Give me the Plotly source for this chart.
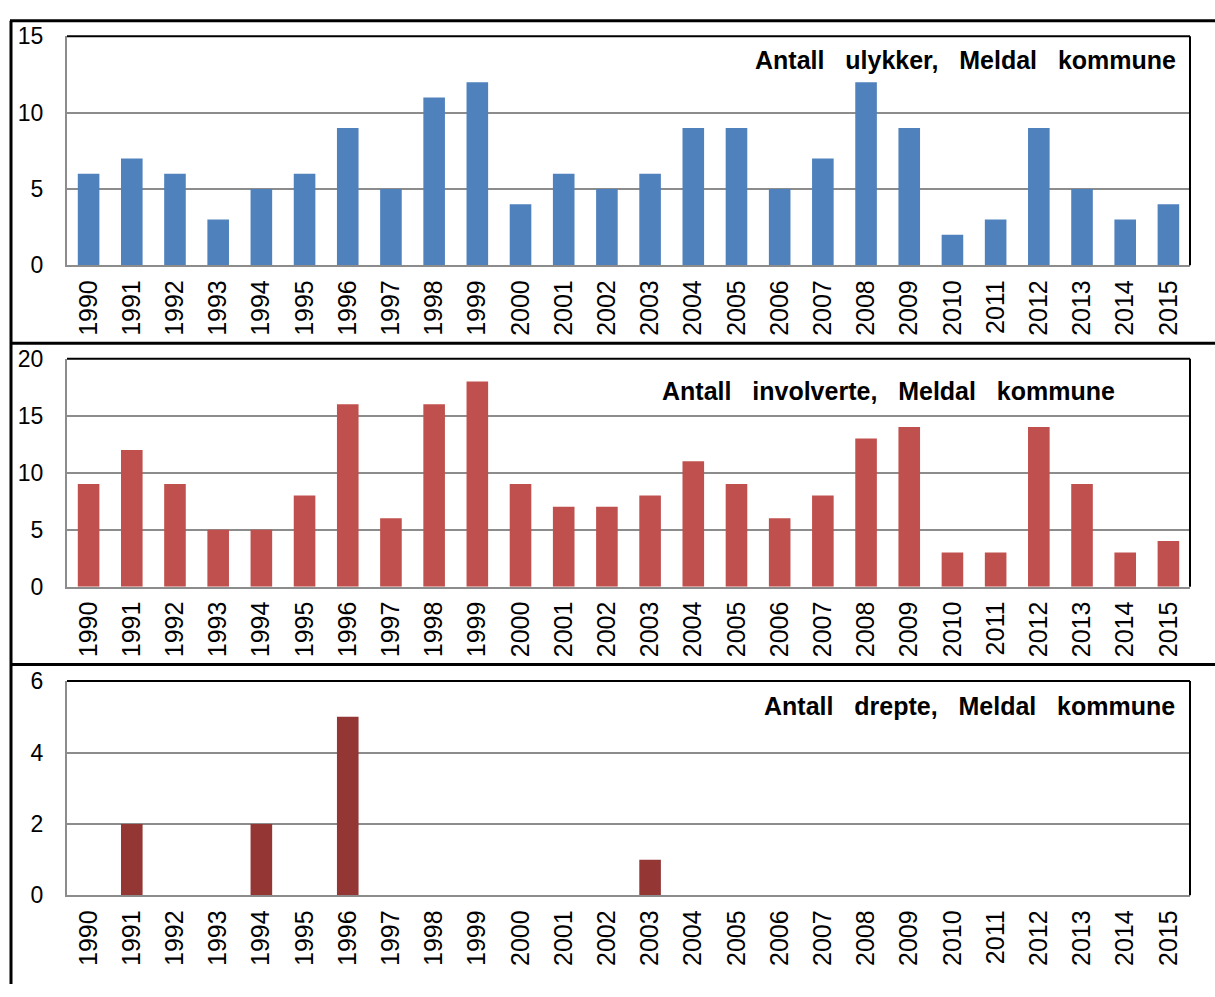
import plotly.graph_objects as go

years = [str(y) for y in range(1990, 2016)]
ulykker = [6, 7, 6, 3, 5, 6, 9, 5, 11, 12, 4, 6, 5, 6, 9, 9, 5, 7, 12, 9, 2, 3, 9, 5, 3, 4]
involverte = [9, 12, 9, 5, 5, 8, 16, 6, 16, 18, 9, 7, 7, 8, 11, 9, 6, 8, 13, 14, 3, 3, 14, 9, 3, 4]
drepte = [0, 2, 0, 0, 2, 0, 5, 0, 0, 0, 0, 0, 0, 1, 0, 0, 0, 0, 0, 0, 0, 0, 0, 0, 0, 0]

titles = ["Antall   ulykker,   Meldal   kommune",
          "Antall   involverte,   Meldal   kommune",
          "Antall   drepte,   Meldal   kommune"]
colors = ["#4F81BD", "#C0504D", "#943634"]
yranges = [[0, 15], [0, 20], [0, 6]]
ydticks = [5, 5, 2]

W, H = 1215, 997
x0, x1 = 67, 1190
panels_px = [(24, 259), (355, 589), (686, 906)]
title_pos = [(1178, 48), (1117, 388), (1177, 712)]

fig = go.Figure()
font = "Liberation Sans, Arial, sans-serif"
series = [ulykker, involverte, drepte]

for i, (vals, col) in enumerate(zip(series, colors)):
    n = "" if i == 0 else str(i + 1)
    fig.add_trace(go.Bar(x=years, y=vals, marker=dict(color=col, line=dict(width=0)),
                         xaxis="x" + n, yaxis="y" + n, showlegend=False))
    top, bot = panels_px[i]
    dom = [1 - bot / H, 1 - top / H]
    fig.layout["xaxis" + n] = dict(
        domain=[x0 / W, x1 / W], anchor="y" + n, type="category",
        tickangle=-90, tickfont=dict(family=font, size=25, color="#000"),
        showline=True, linecolor="#8c8c8c", linewidth=2, ticks="",
        showgrid=False, mirror=False, ticklabelstandoff=3, fixedrange=True)
    fig.layout["yaxis" + n] = dict(
        domain=dom, anchor="x" + n, range=yranges[i], dtick=ydticks[i],
        tickfont=dict(family=font, size=23, color="#000"),
        showline=True, linecolor="#8c8c8c", linewidth=2, ticks="",
        showgrid=True, gridcolor="#8c8c8c", gridwidth=1.5, zeroline=False,
        ticklabelstandoff=17, fixedrange=True)
    fig.add_shape(type="line", xref="paper", yref="paper",
                  x0=x0 / W, x1=x1 / W, y0=dom[1], y1=dom[1],
                  line=dict(color="#000", width=2))
    fig.add_shape(type="line", xref="paper", yref="paper",
                  x0=x1 / W, x1=x1 / W, y0=dom[0], y1=dom[1],
                  line=dict(color="#000", width=2))
    tx, ty = title_pos[i]
    fig.add_annotation(text="<b>" + titles[i] + "</b>", xref="paper", yref="paper",
                       x=tx / W, y=1 - ty / H, xanchor="right", yanchor="middle",
                       showarrow=False, font=dict(family=font, size=25, color="#000"))

for yy in [8, 339, 669]:
    fig.add_shape(type="line", xref="paper", yref="paper",
                  x0=10 / W, x1=1, y0=1 - yy / H, y1=1 - yy / H,
                  line=dict(color="#000", width=3))
fig.add_shape(type="line", xref="paper", yref="paper",
              x0=11 / W, x1=11 / W, y0=0, y1=1 - 8 / H,
              line=dict(color="#000", width=3))

fig.update_layout(width=W, height=H, margin=dict(l=0, r=0, t=0, b=0),
                  paper_bgcolor="white", plot_bgcolor="white", bargap=0.5)

fig.write_html("out.html", config={"displayModeBar": False},
               post_script="document.body.style.margin='0';document.body.style.overflow='hidden';")
